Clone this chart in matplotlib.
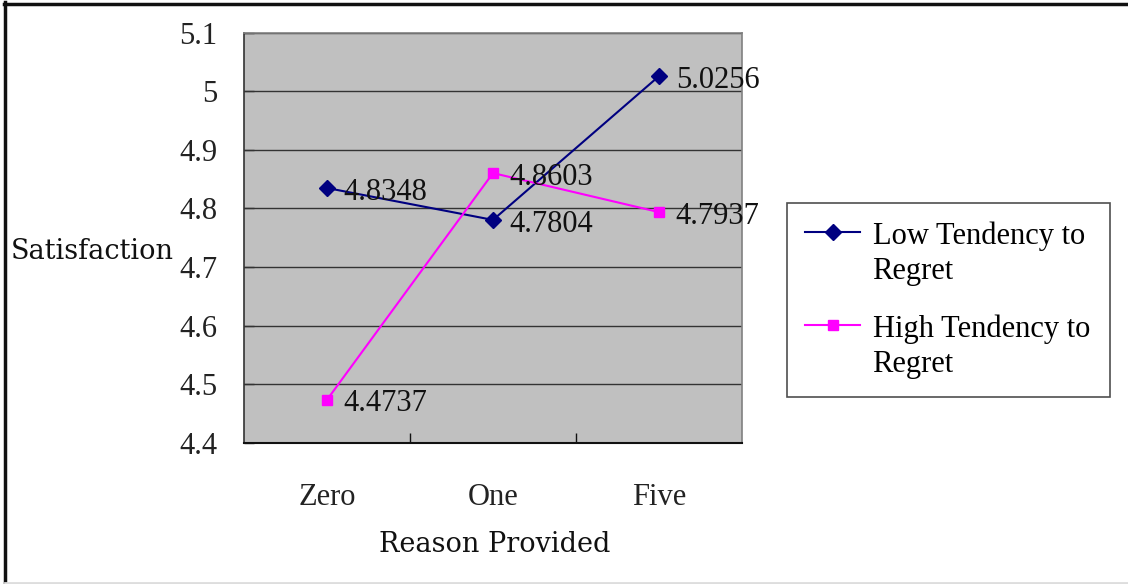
import matplotlib
matplotlib.use("Agg")
import matplotlib.pyplot as plt
from matplotlib.lines import Line2D

categories = ["Zero", "One", "Five"]
low_regret = [4.8348, 4.7804, 5.0256]
high_regret = [4.4737, 4.8603, 4.7937]
series_names = ["Low Tendency to\nRegret", "High Tendency to\nRegret"]
y_ticks = [4.4, 4.5, 4.6, 4.7, 4.8, 4.9, 5.0, 5.1]
y_tick_labels = ["4.4", "4.5", "4.6", "4.7", "4.8", "4.9", "5", "5.1"]

W, H, DPI = 1128, 584, 100
FONT = "Liberation Serif"
FS = 22

fig = plt.figure(figsize=(W / DPI, H / DPI), dpi=DPI)
fig.patch.set_facecolor("white")

def fx(px):
    return px / W

def fy(py):
    return 1 - py / H

ax = fig.add_axes([fx(244), fy(443), fx(742) - fx(244), fy(32.5) - fy(443)])
ax.set_facecolor("#C0C0C0")
ax.set_xlim(-0.5, 2.5)
ax.set_ylim(4.4, 5.1)

x = list(range(len(categories)))
ax.plot(x, low_regret, color="#000080", lw=1.5, marker="D", markersize=8.5,
        label=series_names[0], zorder=3, clip_on=False)
ax.plot(x, high_regret, color="#FF00FF", lw=1.5, marker="s", markersize=7.5,
        label=series_names[1], zorder=3, clip_on=False)

for xs, ys in ((x, low_regret), (x, high_regret)):
    for xi, yi in zip(xs, ys):
        ax.annotate(f"{yi:.4f}", (xi, yi), xytext=(12, -3), textcoords="offset points",
                    ha="left", va="center", fontsize=FS, family=FONT, color="#111111",
                    annotation_clip=False, zorder=4)

# gridlines
ax.set_yticks(y_ticks)
ax.set_yticklabels(y_tick_labels, family=FONT, fontsize=FS, color="#222222")
ax.yaxis.grid(True, color="#333333", lw=1.0)
ax.set_axisbelow(True)
ax.tick_params(axis="y", direction="in", length=7, width=1, color="#333333", pad=19)

ax.set_xticks(x)
ax.set_xticklabels(categories, family=FONT, fontsize=FS, color="#222222")
ax.set_xticks([0.5, 1.5], minor=True)
ax.tick_params(axis="x", which="major", length=0, pad=29)
ax.tick_params(axis="x", which="minor", direction="in", length=7, width=1, color="#111111")

for s in ("top", "right"):
    ax.spines[s].set_color("#808080")
    ax.spines[s].set_linewidth(1.2)
ax.spines["bottom"].set_color("#111111")
ax.spines["bottom"].set_linewidth(1.5)
ax.spines["left"].set_color("#333333")
ax.spines["left"].set_linewidth(1.2)

fig.text(fx(92), fy(252), "Satisfaction", ha="center", va="center",
         fontsize=19.5, family="DejaVu Serif", color="#111111")
fig.text(fx(495), fy(545), "Reason Provided", ha="center", va="center",
         fontsize=19.5, family="DejaVu Serif", color="#111111")

leg = ax.legend(loc="upper left",
                bbox_to_anchor=(fx(787), fy(391), fx(1110) - fx(787), fy(203) - fy(391)),
                bbox_transform=fig.transFigure, mode="expand", borderaxespad=0,
                prop={"family": FONT, "size": FS}, frameon=True, fancybox=False,
                edgecolor="#222222", handlelength=1.8, handletextpad=0.4,
                borderpad=0.6, labelspacing=0.92, numpoints=1)
leg.get_frame().set_linewidth(1.2)
for t in leg.get_texts():
    t.set_linespacing(1.28)
for col in leg._legend_handle_box.get_children():
    for hp in col.get_children():
        hp.align = "top"

# figure border lines
fig.add_artist(Line2D([fx(5), fx(5)], [fy(2), fy(582)], color="#111111", lw=2.5,
                      transform=fig.transFigure))
fig.add_artist(Line2D([fx(4), fx(1128)], [fy(3.5), fy(3.5)], color="#111111", lw=2.5,
                      transform=fig.transFigure))
fig.add_artist(Line2D([fx(5), fx(1128)], [fy(582.5), fy(582.5)], color="#DDDDDD", lw=2,
                      transform=fig.transFigure))

fig.savefig("out.png", dpi=DPI)
